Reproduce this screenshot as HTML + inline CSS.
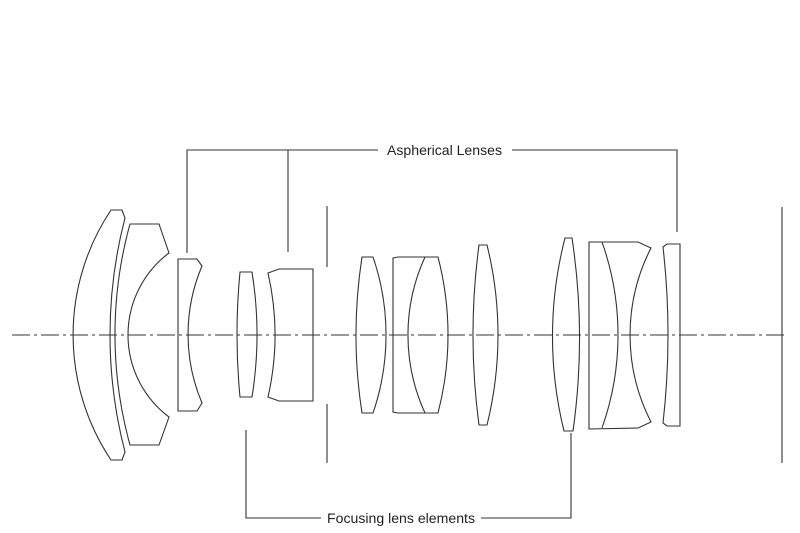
<!DOCTYPE html>
<html><head><meta charset="utf-8"><style>
html,body{margin:0;padding:0;background:#fff;}
svg{display:block;}
text{font-family:"Liberation Sans",sans-serif;fill:#222;}
</style></head><body>
<svg width="800" height="533" viewBox="0 0 800 533" xmlns="http://www.w3.org/2000/svg">
<g fill="none" stroke="#333" stroke-width="1.1">
<line x1="12" y1="335" x2="786" y2="335" stroke-dasharray="18,4,3,4"/>
<!-- Lens 1 -->
<path d="M111,210 L122,210 L125,218 A464,464 0 0 0 125,452 L122,460 L111,460 A225,225 0 0 1 111,210 Z"/>
<!-- Lens 2 -->
<path d="M130,224 L159,224 L169,253 A102.5,102.5 0 0 0 169,417 L159,445 L130,445 A414,414 0 0 1 130,224 Z"/>
<!-- Lens 3 -->
<path d="M178,259 L197,259 L202,266 A175,175 0 0 0 202,403 L197,411 L178,411 Z"/>
<!-- Lens 4 -->
<path d="M240,272 L252,272 A393,393 0 0 1 252,397 L240,397 A652,652 0 0 1 240,272 Z"/>
<!-- Lens 5 -->
<path d="M268,273 L279,269 L313,269 L313,401 L279,401 L268,397 A278,278 0 0 0 268,273 Z"/>
<!-- Lens 6 -->
<path d="M362,257 L373,257 A240,240 0 0 1 373,413 L362,413 A510,510 0 0 1 362,257 Z"/>
<!-- Lens 7 -->
<path d="M393,258 L398,257 L438,257 A309,309 0 0 1 438,413 L398,413 L393,412 Z"/>
<path d="M425,257 A187,187 0 0 0 425,413"/>
<!-- Lens 8 -->
<path d="M479,245 L487,245 A374,374 0 0 1 487,425 L479,425 A678,678 0 0 1 479,245 Z"/>
<!-- Lens 9 -->
<path d="M565,238 L572,238 A668,668 0 0 1 573,431 L564,431 A394,394 0 0 1 565,238 Z"/>
<!-- Lens 10 -->
<path d="M589,242 L638,242 L651,248 A191,191 0 0 0 651,422 L638,428 L589,429 Z"/>
<path d="M602,242 A278,278 0 0 1 602,428"/>
<!-- Lens 11 -->
<path d="M663,247 L667,244 L680,244 L680,426 L667,426 L663,423 A777,777 0 0 0 663,247 Z"/>
<line x1="327" y1="206" x2="327" y2="267"/>
<line x1="327" y1="404" x2="327" y2="463"/>
<line x1="782" y1="207" x2="782" y2="463"/>
<polyline points="187,253 187,150 378,150"/>
<line x1="288" y1="150" x2="288" y2="252"/>
<polyline points="512,150 677,150 677,232"/>
<polyline points="246,430 246,518 321,518"/>
<polyline points="481,518 571,518 571,433"/>
</g>
<text x="387" y="155" font-size="13.6" textLength="115" lengthAdjust="spacingAndGlyphs">Aspherical Lenses</text>
<text x="327" y="523" font-size="13.6" textLength="148" lengthAdjust="spacingAndGlyphs">Focusing lens elements</text>
</svg>
</body></html>
